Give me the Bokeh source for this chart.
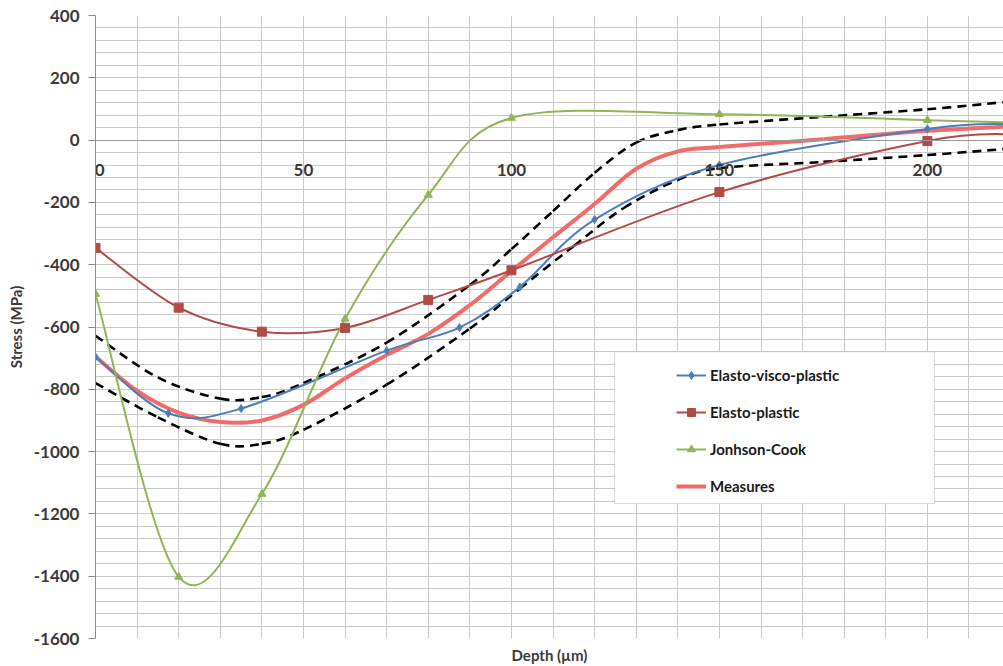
import numpy as np
from bokeh.plotting import figure
from bokeh.models import (Range1d, LinearAxis, SingleIntervalTicker, FixedTicker,
                          Legend, LegendItem, BoxAnnotation, ColumnDataSource,
                          PrintfTickFormatter)
from bokeh.embed import file_html
from bokeh.resources import INLINE

# ---------------- data ----------------
evp_depth = [0, 17.5, 35, 70, 87.5, 102, 120, 150, 200, 220]
evp_stress = [-696, -877, -862, -676, -602, -472, -255, -80, 36, 52]

ep_depth = [0, 20, 40, 60, 80, 100, 150, 200, 220]
ep_stress = [-346, -538, -615, -603, -513, -418, -167, -3, 20]

jc_depth = [0, 20, 40, 60, 80, 100, 150, 200, 220]
jc_stress = [-494, -1402, -1136, -574, -176, 71, 83, 64, 57]

meas_depth = [0, 10, 20, 30, 40, 50, 60, 70, 80, 90, 100, 110, 120, 130, 140, 150, 175, 200, 220]
meas_stress = [-695, -805, -875, -905, -900, -850, -765, -690, -622, -530, -420, -312, -205, -92, -36, -22, 3, 30, 44]

upper_depth = [0, 15, 30, 40, 50, 70, 90, 100, 110, 120, 130, 140, 150, 175, 200, 220]
upper_stress = [-628, -762, -830, -825, -780, -650, -465, -350, -228, -105, -8, 32, 50, 75, 99, 124]

lower_depth = [0, 15, 30, 40, 50, 70, 90, 102, 115, 127, 140, 150, 175, 200, 220]
lower_stress = [-780, -890, -975, -975, -930, -785, -605, -477, -340, -218, -128, -90, -70, -48, -27]

x_tick_step = 50
y_tick_step = 200
series_labels = ["Elasto-visco-plastic", "Elasto-plastic", "Jonhson-Cook", "Measures"]

FONT = "Lato"
TXT = "#3a3a3a"
GRID = "#c9c9c9"


def smooth_segments(xs, ys):
    """Bezier control points (Excel-like smoothing) from the data points."""
    x = np.asarray(xs, float)
    y = np.asarray(ys, float)
    n = len(x)
    px = np.concatenate([[x[0]], x, [x[-1]]])
    py = np.concatenate([[y[0]], y, [y[-1]]])
    cx0 = x[:-1] + (px[2:n + 1] - px[0:n - 1]) / 6.0
    cy0 = y[:-1] + (py[2:n + 1] - py[0:n - 1]) / 6.0
    cx1 = x[1:] - (px[3:n + 2] - px[1:n]) / 6.0
    cy1 = y[1:] - (py[3:n + 2] - py[1:n]) / 6.0
    return ColumnDataSource(dict(x0=x[:-1], y0=y[:-1], x1=x[1:], y1=y[1:],
                                 cx0=cx0, cy0=cy0, cx1=cx1, cy1=cy1))


p = figure(width=1003, height=666, x_range=Range1d(0, 218.3), y_range=Range1d(-1600, 400),
           output_backend="svg", toolbar_location=None,
           min_border_left=95, min_border_right=0, min_border_top=15, min_border_bottom=27)
p.outline_line_color = None
p.background_fill_color = "white"
p.border_fill_color = "white"

# y axis
ya = p.yaxis[0]
ya.ticker = SingleIntervalTicker(interval=y_tick_step, num_minor_ticks=5)
ya.formatter = PrintfTickFormatter(format="%d")
ya.minor_tick_line_color = None
ya.major_tick_out = 7
ya.major_tick_in = 0
ya.axis_line_color = "#8c8c8c"
ya.major_tick_line_color = "#8c8c8c"
ya.major_label_text_font = FONT
ya.major_label_text_font_style = "bold"
ya.major_label_text_font_size = "17px"
ya.major_label_text_color = TXT
ya.major_label_standoff = 9
ya.axis_label = "Stress (MPa)"
ya.axis_label_text_font = FONT
ya.axis_label_text_font_style = "bold"
ya.axis_label_text_font_size = "15px"
ya.axis_label_text_color = TXT
ya.axis_label_standoff = 6

p.ygrid.grid_line_color = GRID
p.ygrid.minor_grid_line_color = GRID

# bottom axis: title only
xb = p.xaxis[0]
xb.ticker = FixedTicker(ticks=[])
xb.axis_line_color = None
xb.major_tick_line_color = None
xb.minor_tick_line_color = None
xb.major_tick_out = 0
xb.major_label_standoff = 0
xb.axis_label = "Depth (µm)"
xb.axis_label_text_font = FONT
xb.axis_label_text_font_style = "bold"
xb.axis_label_text_font_size = "15px"
xb.axis_label_text_color = TXT
xb.axis_label_standoff = 7

p.xgrid[0].ticker = SingleIntervalTicker(interval=x_tick_step / 5, num_minor_ticks=0)
p.xgrid.grid_line_color = GRID

# x axis crossing at stress 0
xf = LinearAxis(fixed_location=0,
                ticker=SingleIntervalTicker(interval=x_tick_step, num_minor_ticks=5))
xf.formatter = PrintfTickFormatter(format="%d")
xf.major_label_overrides = {0: "\u00a0\u00a00"}
xf.axis_line_color = "#9a9a9a"
xf.major_tick_line_color = None
xf.minor_tick_line_color = None
xf.major_tick_out = 0
xf.major_tick_in = 0
xf.major_label_standoff = 15
xf.major_label_text_font = FONT
xf.major_label_text_font_style = "bold"
xf.major_label_text_font_size = "17px"
xf.major_label_text_color = TXT
p.add_layout(xf, "below")

# dashed envelopes
for d, s in ((upper_depth, upper_stress), (lower_depth, lower_stress)):
    p.bezier(x0="x0", y0="y0", x1="x1", y1="y1", cx0="cx0", cy0="cy0", cx1="cx1", cy1="cy1",
             source=smooth_segments(d, s), line_color="black", line_width=2.6, line_dash="9 6")

C_EVP, C_EP, C_JC, C_M = "#4a7ebb", "#b24a48", "#93b456", "#f26a6a"

# measures
p.bezier(x0="x0", y0="y0", x1="x1", y1="y1", cx0="cx0", cy0="cy0", cx1="cx1", cy1="cy1",
         source=smooth_segments(meas_depth, meas_stress), line_color=C_M, line_width=4)

p.bezier(x0="x0", y0="y0", x1="x1", y1="y1", cx0="cx0", cy0="cy0", cx1="cx1", cy1="cy1",
         source=smooth_segments(evp_depth, evp_stress), line_color=C_EVP, line_width=2)
p.bezier(x0="x0", y0="y0", x1="x1", y1="y1", cx0="cx0", cy0="cy0", cx1="cx1", cy1="cy1",
         source=smooth_segments(ep_depth, ep_stress), line_color=C_EP, line_width=2)
p.bezier(x0="x0", y0="y0", x1="x1", y1="y1", cx0="cx0", cy0="cy0", cx1="cx1", cy1="cy1",
         source=smooth_segments(jc_depth, jc_stress), line_color=C_JC, line_width=2)

s_evp = p.scatter(evp_depth, evp_stress, marker="diamond", size=8, color=C_EVP)
s_ep = p.scatter(ep_depth, ep_stress, marker="square", size=9, color=C_EP)
s_jc = p.scatter(jc_depth, jc_stress, marker="triangle", size=8, color=C_JC)

nan = [float("nan")]
l_evp = p.line(nan, nan, line_color=C_EVP, line_width=2)
l_ep = p.line(nan, nan, line_color=C_EP, line_width=2)
l_jc = p.line(nan, nan, line_color=C_JC, line_width=2)
l_m = p.line(nan, nan, line_color=C_M, line_width=4)

box = BoxAnnotation(left=124.8, right=201.7, top=-679.5, bottom=-1166.7,
                    fill_color="white", fill_alpha=1.0, line_color="#808080", line_width=1)
p.add_layout(box)

legend = Legend(items=[
    LegendItem(label=series_labels[0], renderers=[l_evp, s_evp]),
    LegendItem(label=series_labels[1], renderers=[l_ep, s_ep]),
    LegendItem(label=series_labels[2], renderers=[l_jc, s_jc]),
    LegendItem(label=series_labels[3], renderers=[l_m]),
], location=(581, 142))
legend.margin = 0
legend.padding = 6
legend.spacing = 17
legend.glyph_width = 30
legend.glyph_height = 20
legend.label_height = 20
legend.label_standoff = 4
legend.border_line_color = None
legend.background_fill_alpha = 0
legend.label_text_font = FONT
legend.label_text_font_style = "bold"
legend.label_text_font_size = "15px"
legend.label_text_color = "#1a1a1a"
p.add_layout(legend)

open("out.html", "w").write(file_html(p, INLINE))
